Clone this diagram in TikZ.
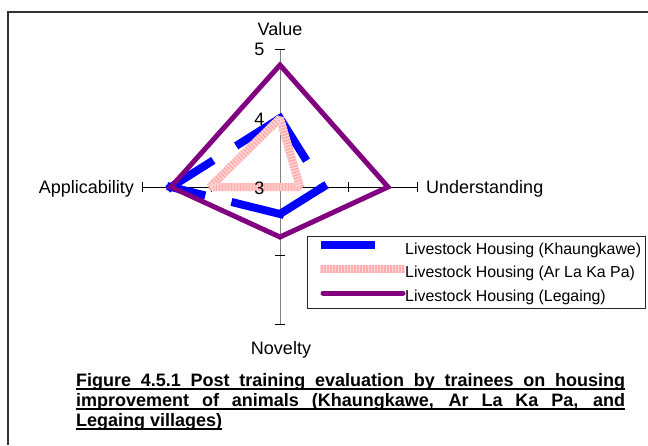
\documentclass[tikz,border=0pt]{standalone}
\usepackage{fontspec}
\setmainfont{Liberation Sans}
\definecolor{khblue}{RGB}{0,0,255}
\definecolor{legpurple}{RGB}{128,0,128}
\definecolor{alpink}{RGB}{255,172,172}
\definecolor{alpinklight}{RGB}{255,218,218}
\definecolor{axisgray}{RGB}{128,128,128}
\begin{document}
\begin{tikzpicture}[x=1pt,y=-1pt,
  frameline/.style={draw=black!80,line width=1.5pt},
  vaxis/.style={draw=axisgray,line width=1pt},
  haxis/.style={draw=black,line width=1pt},
  tickmark/.style={draw=black,line width=1.2pt},
  axislabel/.style={inner sep=0pt,font=\fontsize{18}{20}\selectfont},
  khaung/.style={draw=khblue,line width=8pt,line cap=rect,dash pattern=on 46pt off 35pt},
  alpbase/.style={draw=alpink,line width=8pt,line join=bevel},
  alpstripe/.style={draw=alpinklight,line width=8pt,line join=bevel,dash pattern=on 1.2pt off 1.8pt},
  legaing/.style={draw=legpurple,line width=5pt,line join=miter},
  legendbox/.style={draw=black!85,line width=1pt,fill=white,inner sep=0pt},
  legendtext/.style={inner sep=0pt,anchor=base west,font=\fontsize{15.9}{17}\selectfont},
  captionline/.style={inner sep=0pt,anchor=base west,font=\fontsize{18}{20}\selectfont\bfseries},
  uline/.style={draw=black,line width=1.5pt}]
\useasboundingbox (0,0) rectangle (648,445);

% page frame (top and left rules)
\coordinate (fBL) at (8,445);
\coordinate (fTL) at (8,12);
\coordinate (fTR) at (648,12);
\draw[frameline] (fBL) -- (fTL) -- (fTR);

% radar axes: centre is 3, one unit = 68.75pt
\coordinate (c) at (280,187);
\coordinate (vEnd) at (280,49.5);
\coordinate (uEnd) at (417.5,187);
\coordinate (nEnd) at (280,324.5);
\coordinate (aEnd) at (142.5,187);
\coordinate (v4) at (280,118.25);
\coordinate (u4) at (348.75,187);
\coordinate (n4) at (280,255.75);
\coordinate (a4) at (211.25,187);
\draw[vaxis] (vEnd) -- (nEnd);
\draw[haxis] (aEnd) -- (uEnd);
\draw[tickmark] ([xshift=-5pt]vEnd) -- ([xshift=5pt]vEnd);
\draw[tickmark] ([xshift=-5pt]v4) -- ([xshift=5pt]v4);
\draw[tickmark] ([xshift=-5pt]nEnd) -- ([xshift=5pt]nEnd);
\draw[tickmark] ([xshift=-5pt]n4) -- ([xshift=5pt]n4);
\draw[tickmark] ([yshift=-5pt]uEnd) -- ([yshift=5pt]uEnd);
\draw[tickmark] ([yshift=-5pt]u4) -- ([yshift=5pt]u4);
\draw[tickmark] ([yshift=-5pt]aEnd) -- ([yshift=5pt]aEnd);
\draw[tickmark] ([yshift=-5pt]a4) -- ([yshift=5pt]a4);

% Livestock Housing (Khaungkawe)
\coordinate (kV) at (280,118.25);
\coordinate (kU) at (323,187);
\coordinate (kN) at (280,214);
\coordinate (kA) at (171,187);
\draw[khaung] (kV) -- (kU);
\draw[khaung] (kU) -- (kN);
\draw[khaung] (kN) -- (kA);
\draw[khaung] (kA) -- (kV);

% Livestock Housing (Ar La Ka Pa)
\coordinate (pV) at (280,118.25);
\coordinate (pU) at (300,187);
\coordinate (pN) at (280,187);
\coordinate (pA) at (210,187);
\draw[alpbase] (pV) -- (pU) -- (pN) -- (pA) -- cycle;
\draw[alpstripe] (pV) -- (pU) -- (pN) -- (pA) -- cycle;

% Livestock Housing (Legaing)
\coordinate (lV) at (280,65);
\coordinate (lU) at (388,187);
\coordinate (lN) at (280,237);
\coordinate (lA) at (171,187);
\draw[legaing] (lV) -- (lU) -- (lN) -- (lA) -- cycle;

% axis titles and value labels
\node[axislabel,anchor=base] (tValue) at (280,35) {Value};
\node[axislabel,anchor=base east] (t5) at (264.5,55) {5};
\node[axislabel,anchor=base east] (t4) at (264.5,125) {4};
\node[axislabel,anchor=base east] (t3) at (264.5,194) {3};
\node[axislabel,anchor=base east] (tApp) at (134,193) {Applicability};
\node[axislabel,anchor=base west] (tUnd) at (426,193) {Understanding};
\node[axislabel,anchor=base] (tNov) at (281,354) {Novelty};

% legend
\node[legendbox,minimum width=338pt,minimum height=72pt] (legend) at (476,272) {};
\coordinate (k1) at (321,245);
\coordinate (k2) at (375,245);
\coordinate (p1) at (320,269);
\coordinate (p2) at (405,269);
\coordinate (l1) at (323,293);
\coordinate (l2) at (403,293);
\draw[draw=khblue,line width=8pt] (k1) -- (k2);
\draw[alpbase] (p1) -- (p2);
\draw[alpstripe] (p1) -- (p2);
\draw[legaing,line cap=round] (l1) -- (l2);
\node[legendtext] (kt) at (405,254) {Livestock Housing (Khaungkawe)};
\node[legendtext] (pt) at (405,277) {Livestock Housing (Ar La Ka Pa)};
\node[legendtext] (lt) at (405,301) {Livestock Housing (Legaing)};

% caption, justified and underlined
\node[captionline] (cap1) at (76,386) {\makebox[549pt][s]{Figure 4.5.1 Post training evaluation by trainees on housing}};
\node[captionline] (cap2) at (76,406) {\makebox[549pt][s]{improvement of animals (Khaungkawe, Ar La Ka Pa, and}};
\node[captionline] (cap3) at (76,426) {Legaing villages)};
\draw[uline] ([yshift=-3pt]cap1.base west) -- ([yshift=-3pt]cap1.base east);
\draw[uline] ([yshift=-3pt]cap2.base west) -- ([yshift=-3pt]cap2.base east);
\draw[uline] ([yshift=-3pt]cap3.base west) -- ([yshift=-3pt]cap3.base east);
\end{tikzpicture}
\end{document}
